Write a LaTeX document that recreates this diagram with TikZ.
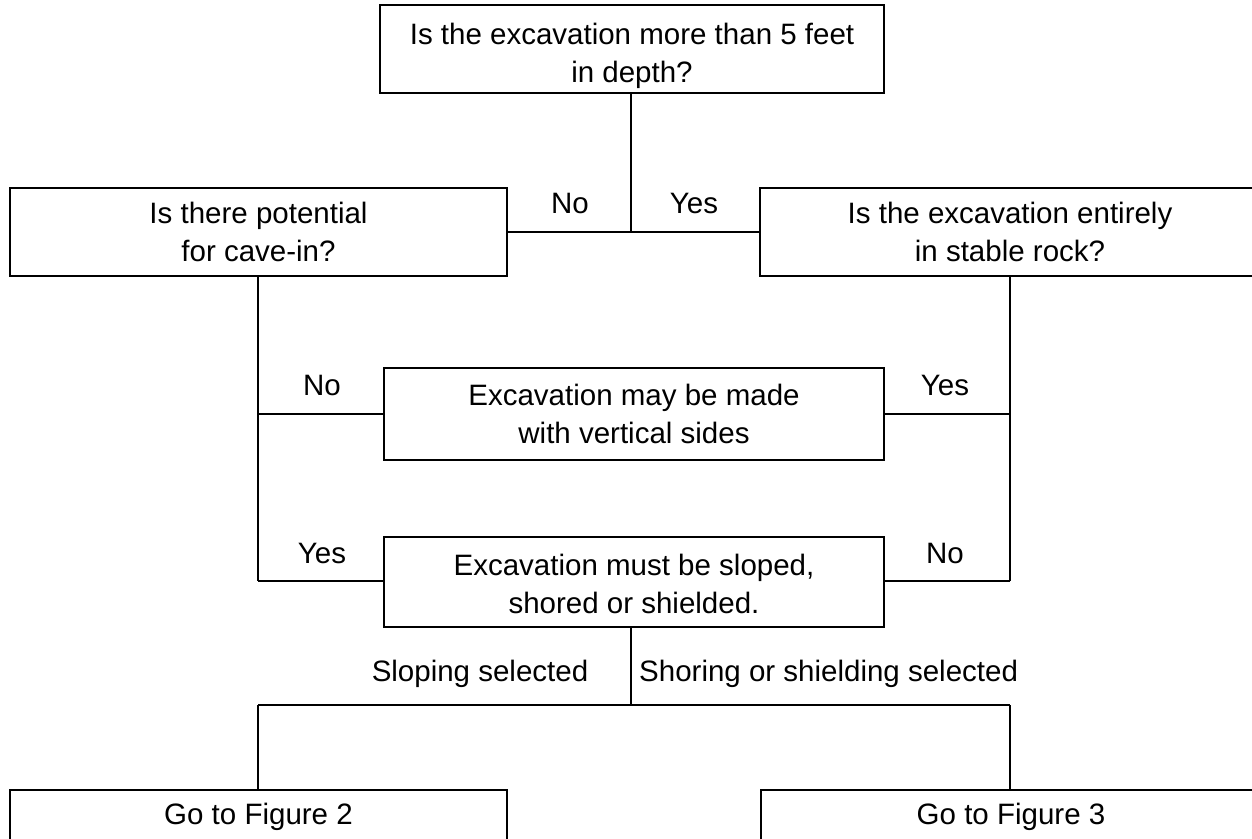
\documentclass[tikz,border=0pt]{standalone}
\usepackage{fontspec}
\setmainfont{Liberation Sans}
\begin{document}
\begin{tikzpicture}[x=1pt,y=-1pt,
  every node/.style={font=\fontsize{29.5}{38}\selectfont, inner sep=0pt},
  box/.style={draw, line width=2pt, rectangle, align=center},
  lbl/.style={},
  wire/.style={line width=2.2pt}]
\clip (0,0) rectangle (1252,838);
\fill[white] (0,0) rectangle (1252,838);
% boxes
\node[box, minimum width=504pt, minimum height=88pt] (top) at (632,49) {};
\node[align=center] (topt) at (632,56) {Is the excavation more than 5 feet\\in depth?};
\node[box, minimum width=497pt, minimum height=88pt] (left) at (258.5,232) {Is there potential\\for cave-in?};
\node[box, minimum width=500pt, minimum height=88pt] (right) at (1010,232) {Is the excavation entirely\\in stable rock?};
\node[box, minimum width=500pt, minimum height=92pt] (mid1) at (634,414) {Excavation may be made\\with vertical sides};
\node[box, minimum width=500pt, minimum height=90pt] (mid2) at (634,582) {};
\node[align=center] (mid2t) at (634,584) {Excavation must be sloped,\\shored or shielded.};
\node[box, minimum width=497pt, minimum height=90pt] (bl) at (258.5,835) {};
\node at (258.5,817) (blt) {Go to Figure 2};
\node[box, minimum width=500pt, minimum height=90pt] (br) at (1011,835) {};
\node at (1011,817) (brt) {Go to Figure 3};
% junction coordinates
\coordinate (j1) at (631,232);
\coordinate (lt) at (258,276);
\coordinate (lb) at (258,581);
\coordinate (rt) at (1010,276);
\coordinate (rb) at (1010,581);
\coordinate (j2) at (631,705);
\coordinate (bl2) at (258,705);
\coordinate (br2) at (1010,705);
% connectors
\draw[wire] (top.south -| j1) -- (j1);
\draw[wire] (left.east |- j1) -- (right.west |- j1);
\draw[wire] (lt) -- (lb);
\draw[wire] (lt |- mid1.west) -- (mid1.west);
\draw[wire] (lb) -- (mid2.west |- lb);
\draw[wire] (rt) -- (rb);
\draw[wire] (mid1.east) -- (rt |- mid1.east);
\draw[wire] (rb) -- (mid2.east |- rb);
\draw[wire] (mid2.south -| j2) -- (j2);
\draw[wire] (bl2) -- (br2);
\draw[wire] (bl2) -- (bl2 |- bl.north);
\draw[wire] (br2) -- (br2 |- br.north);
% labels
\node[lbl] (n1) at (570,203) {No};
\node[lbl] (y1) at (694,203) {Yes};
\node[lbl] (n2) at (322,385) {No};
\node[lbl] (y2) at (945,385) {Yes};
\node[lbl] (y3) at (322,553) {Yes};
\node[lbl] (n3) at (945,553) {No};
\node[lbl] (s1) at (480,674) {Sloping selected};
\node[lbl, anchor=west] (s2) at (639,674) {Shoring or shielding selected};
\end{tikzpicture}
\end{document}
